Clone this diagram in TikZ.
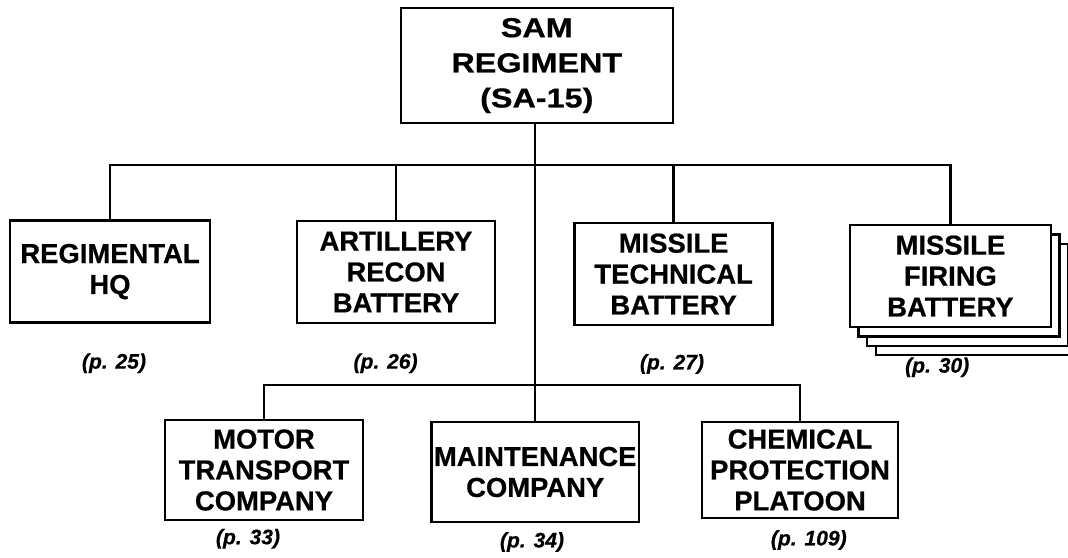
\documentclass[tikz,border=0pt]{standalone}
\usepackage{fontspec}
\setmainfont{Liberation Sans}[FakeBold=0.6]
\newfontfamily\wideface{Liberation Sans}[FakeStretch=1.18, FakeBold=0.6]
\usepackage{tikz}
\usetikzlibrary{positioning, calc}

\begin{document}
\begin{tikzpicture}[
  ubox/.style  = {draw, fill=white, line width=1.8pt, inner sep=1pt,
                  minimum width=4.95cm, minimum height=2.55cm,
                  align=center, font=\fontsize{19.5}{22}\selectfont\bfseries},
  link/.style  = {line width=1.7pt},
  pref/.style  = {font=\fontsize{15}{17}\selectfont\bfseries\itshape},
]
\useasboundingbox (0,0) rectangle (26.7,-13.95);

%% ── top ───────────────────────────────────────────────────────────────
\node[ubox, minimum width=6.8cm, minimum height=2.88cm,
      font=\wideface\fontsize{19.5}{25}\selectfont\bfseries] (reg) at (13.42,-1.64)
  {SAM\\REGIMENT\\(SA-15)};

\coordinate (bus1) at (0,-4.125);
\coordinate (bus2) at (0,-9.625);

%% ── first row ─────────────────────────────────────────────────────────
\node[ubox, minimum width=5.0cm] (hq)   at (2.75,-6.79)  {REGIMENTAL\\HQ};
\node[ubox]                      (arty) at (9.90,-6.80)  {ARTILLERY\\RECON\\BATTERY};
\node[ubox]                      (tech) at (16.84,-6.85) {MISSILE\\TECHNICAL\\BATTERY};

\foreach \k in {3,2,1}
  \node[ubox, minimum width=5.02cm] (fire\k)
    at (23.76+\k*0.215,-6.9-\k*0.235) {};
\node[ubox, minimum width=5.02cm] (fire) at (23.76,-6.9)
  {MISSILE\\FIRING\\BATTERY};

\node[pref] (p25) at (2.85,-9.08)  {(p. 25)};
\node[pref] (p26) at (9.64,-9.08)  {(p. 26)};
\node[pref] (p27) at (16.80,-9.10) {(p. 27)};
\node[pref] (p30) at (23.43,-9.18) {(p. 30)};

%% ── second row ────────────────────────────────────────────────────────
\node[ubox, minimum height=2.5cm]                      (motor) at (6.6,-11.75)
  {MOTOR\\TRANSPORT\\COMPANY};
\node[ubox, minimum width=5.18cm, minimum height=2.5cm] (maint) at (13.38,-11.8)
  {MAINTENANCE\\COMPANY};
\node[ubox, minimum width=4.9cm, minimum height=2.4cm]  (chem)  at (20.0,-11.75)
  {CHEMICAL\\PROTECTION\\PLATOON};

\node[pref] (p33)  at (6.2,-13.47)  {(p. 33)};
\node[pref] (p34)  at (13.3,-13.55) {(p. 34)};
\node[pref] (p109) at (20.22,-13.5) {(p. 109)};

%% ── connectors ────────────────────────────────────────────────────────
\draw[link] (reg.south -| maint.north) -- (maint.north);
\draw[link] (hq.north) -- (hq.north |- bus1) -- (fire.north |- bus1) -- (fire.north);
\draw[link] (arty.north) -- (arty.north |- bus1);
\draw[link] (tech.north) -- (tech.north |- bus1);
\draw[link] (motor.north) -- (motor.north |- bus2) -- (chem.north |- bus2) -- (chem.north);

\end{tikzpicture}
\end{document}
